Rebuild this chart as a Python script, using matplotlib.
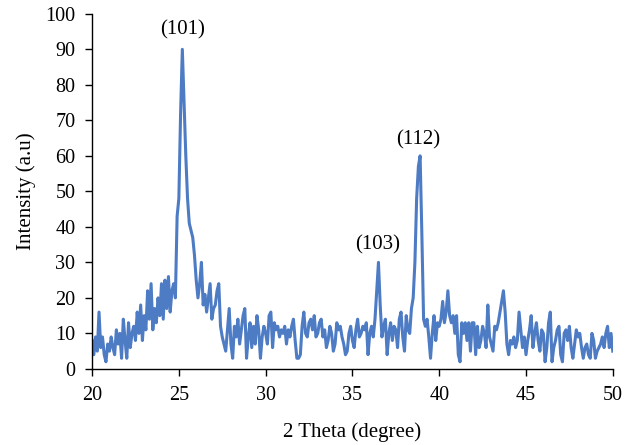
import numpy as np
import matplotlib
matplotlib.use('Agg')
import matplotlib.pyplot as plt

plt.rcParams['font.family'] = ['Liberation Serif', 'DejaVu Serif']

# 2 theta from 20 to 50, step 0.1 deg
two_theta = np.round(np.arange(20.0, 50.05, 0.1), 1)

intensity = [
    # 20.0 - 24.9
    8, 4, 9, 5, 16, 6, 9, 4, 2, 7,
    5, 9, 6, 4, 11, 7, 10, 3, 14, 8,
    3, 13, 6, 10, 12, 8, 16, 10, 18, 8,
    15, 11, 22, 14, 24, 11, 17, 13, 20, 15,
    24, 14, 25, 17, 26, 16, 22, 24, 20, 43,
    # 25.0 - 29.9
    48, 72, 90, 75, 60, 48, 41, 39, 37, 32,
    25, 20, 24, 30, 18, 21, 16, 20, 24, 14,
    17, 18, 22, 24, 12, 9, 7, 5, 11, 17,
    7, 3, 12, 9, 14, 7, 11, 15, 17, 3,
    9, 13, 6, 12, 7, 15, 11, 3, 9, 12,
    # 30.0 - 34.9
    10, 7, 15, 16, 6, 13, 11, 12, 9, 11,
    10, 12, 7, 11, 9, 12, 14, 8, 3, 3,
    4, 12, 16, 10, 9, 13, 14, 11, 15, 9,
    10, 13, 14, 9, 11, 6, 8, 12, 10, 5,
    7, 13, 11, 12, 9, 7, 4, 5, 10, 12,
    # 35.0 - 39.9
    8, 6, 11, 14, 9, 10, 12, 11, 13, 4,
    10, 12, 9, 14, 22, 30, 18, 9, 12, 14,
    4, 10, 13, 8, 12, 11, 6, 14, 16, 9,
    5, 15, 11, 10, 17, 20, 30, 48, 57, 60,
    38, 14, 12, 14, 9, 3, 10, 15, 8, 13,
    # 40.0 - 44.9
    12, 14, 19, 13, 16, 22, 15, 13, 15, 10,
    15, 4, 2, 13, 10, 13, 8, 13, 5, 13,
    13, 4, 12, 6, 8, 12, 10, 6, 18, 9,
    7, 5, 12, 11, 13, 16, 19, 22, 16, 7,
    4, 8, 7, 9, 6, 8, 16, 11, 6, 9,
    # 45.0 - 50.0
    4, 8, 11, 15, 6, 10, 13, 8, 5, 11,
    10, 2, 6, 13, 16, 2, 6, 8, 11, 12,
    4, 2, 10, 11, 8, 12, 6, 3, 7, 11,
    9, 10, 6, 3, 6, 7, 4, 3, 10, 8,
    3, 5, 6, 7, 9, 6, 10, 12, 6, 10,
    5,
]

peak_labels = ['(101)', '(103)', '(112)']
peak_x = [25.24, 36.47, 38.8]
peak_y = [95.5, 35, 64.5]

fig = plt.figure(figsize=(6.35, 4.45), dpi=100)
ax = fig.add_axes([0.145, 0.171, 0.82, 0.798])

ax.plot(two_theta, intensity, color='#4d7bc4', linewidth=2.2)

for lab, px, py in zip(peak_labels, peak_x, peak_y):
    ax.text(px, py, lab, ha='center', va='center', fontsize=15)

ax.set_xlim(20, 50)
ax.set_ylim(0, 100)
ax.set_xticks(range(20, 51, 5))
ax.set_yticks(range(0, 101, 10))
ax.tick_params(direction='out', length=5, width=1, labelsize=14.5, colors='black', pad=7)
ax.spines['top'].set_visible(False)
ax.spines['right'].set_visible(False)
ax.spines['left'].set_linewidth(1)
ax.spines['bottom'].set_linewidth(1)

ax.set_xlabel('2 Theta (degree)', fontsize=15, labelpad=13)
ax.set_ylabel('Intensity (a.u)', fontsize=15, labelpad=7)

plt.savefig('out.png', dpi=100)
